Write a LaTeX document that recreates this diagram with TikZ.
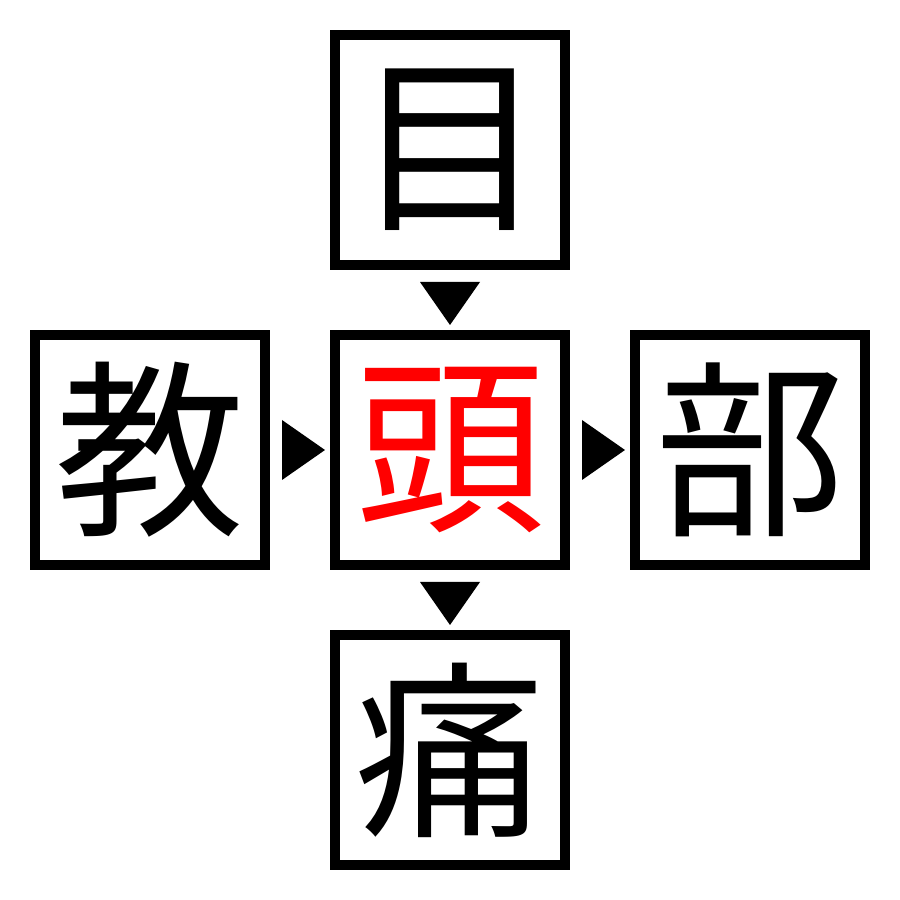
\documentclass[tikz,border=0pt]{standalone}
\usepackage{fontspec}
\newfontfamily\jpfont{Noto Sans CJK JP}
\usetikzlibrary{calc}
\tikzset{
  kanji/.style={draw, line width=0.1cm, minimum size=2.3cm, inner sep=0pt,
    font=\jpfont\fontsize{54}{54}\selectfont},
}
\begin{document}
\begin{tikzpicture}
            \useasboundingbox (0,0) rectangle (9,9);
            %boxes
            \node[kanji] (top) at (4.5,7.5) {目};
            \node[kanji] (left) at (1.5,4.5) {教};
            \node[kanji, text=red] (mid) at (4.5,4.5) {頭};
            \node[kanji] (right) at (7.5,4.5) {部};
            \node[kanji] (bottom) at (4.5,1.5) {痛};

            %triangles
            \fill ($(left.east)+(0.12,0.3)$) -- ++(0.43,-0.3) -- ++(-0.43,-0.3) -- cycle;
            \fill ($(mid.east)+(0.12,0.3)$) -- ++(0.43,-0.3) -- ++(-0.43,-0.3) -- cycle;
            \fill ($(top.south)+(-0.3,-0.12)$) -- ++(0.3,-0.43) -- ++(0.3,0.43) -- cycle;
            \fill ($(mid.south)+(-0.3,-0.12)$) -- ++(0.3,-0.43) -- ++(0.3,0.43) -- cycle;
        \end{tikzpicture}
\end{document}
